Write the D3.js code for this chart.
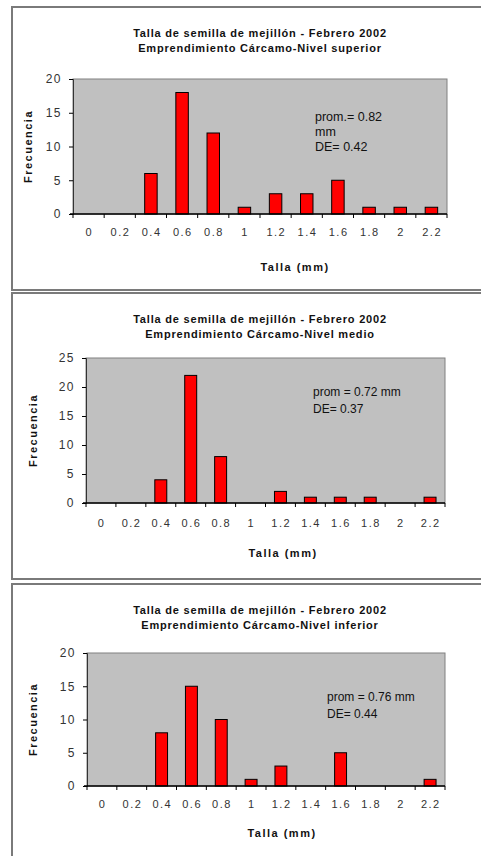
<!DOCTYPE html>
<html>
<head>
<meta charset="utf-8">
<script src="https://cdn.jsdelivr.net/npm/d3@7"></script>
<style>
  body { margin: 0; background: #fff; }
  svg { display: block; }
</style>
</head>
<body>
<svg id="chart" width="481" height="856"></svg>
<script>
// size classes (mm)
var tallas = ["0", "0.2", "0.4", "0.6", "0.8", "1", "1.2", "1.4", "1.6", "1.8", "2", "2.2"];

// frequencies per level
var freqSuperior = [0, 0, 6, 18, 12, 1, 3, 3, 5, 1, 1, 1];
var freqMedio    = [0, 0, 4, 22, 8, 0, 2, 1, 1, 1, 0, 1];
var freqInferior = [0, 0, 8, 15, 10, 1, 3, 0, 5, 0, 0, 1];

var yTicksSuperior = [0, 5, 10, 15, 20];
var yTicksMedio    = [0, 5, 10, 15, 20, 25];
var yTicksInferior = [0, 5, 10, 15, 20];

var titulo1 = "Talla de semilla de mejillón - Febrero 2002";
var subtitulos = ["Emprendimiento Cárcamo-Nivel superior",
                  "Emprendimiento Cárcamo-Nivel medio",
                  "Emprendimiento Cárcamo-Nivel inferior"];
var notas = [["prom.= 0.82", "mm", "DE= 0.42"],
             ["prom = 0.72 mm", "DE= 0.37"],
             ["prom = 0.76 mm", "DE= 0.44"]];

var svg = d3.select("#chart");
var fuente = "Liberation Sans, Arial, sans-serif";

// layout of each panel
var panels = [
  {freq: freqSuperior, ticks: yTicksSuperior, box: [7, 290],
   plot: {l: 73, r: 447, t: 79, b: 214}, titleY: 33, xLabY: 233, xTitleY: 267, xTitleX: 295,
   yTitleX: 28, note: {x: 315, y: 117, dy: 15, size: 12.5}},
  {freq: freqMedio, ticks: yTicksMedio, box: [293, 579],
   plot: {l: 86, r: 445, t: 358, b: 503}, titleY: 319, xLabY: 524, xTitleY: 553, xTitleX: 283,
   yTitleX: 33, note: {x: 313, y: 392, dy: 17, size: 12}},
  {freq: freqInferior, ticks: yTicksInferior, box: [584, 870],
   plot: {l: 87, r: 445, t: 653, b: 786}, titleY: 610, xLabY: 805, xTitleY: 833, xTitleX: 282,
   yTitleX: 33, note: {x: 327, y: 697, dy: 17, size: 12}}
];

panels.forEach(function(p, i) {
  var g = svg.append("g");

  // panel frame
  g.append("rect")
    .attr("x", 12).attr("y", p.box[0])
    .attr("width", 480).attr("height", p.box[1] - p.box[0])
    .attr("fill", "#fff")
    .attr("stroke", "#7a7a7a")
    .attr("stroke-width", 2);

  var x = d3.scaleBand()
    .domain(tallas)
    .range([p.plot.l, p.plot.r])
    .paddingInner(0.6)
    .paddingOuter(0.3);

  var y = d3.scaleLinear()
    .domain([0, d3.max(p.ticks)])
    .range([p.plot.b, p.plot.t]);

  // plot area
  g.append("rect")
    .attr("x", p.plot.l).attr("y", p.plot.t)
    .attr("width", p.plot.r - p.plot.l).attr("height", p.plot.b - p.plot.t)
    .attr("fill", "#c0c0c0")
    .attr("stroke", "#808080")
    .attr("stroke-width", 1);

  // bars
  g.selectAll(".bar")
    .data(p.freq.map(function(v, k) { return {name: tallas[k], value: v}; }))
    .enter()
    .append("rect")
      .attr("class", "bar")
      .attr("x", function(d) { return x(d.name); })
      .attr("y", function(d) { return y(d.value); })
      .attr("width", x.bandwidth())
      .attr("height", function(d) { return p.plot.b - y(d.value); })
      .attr("fill", "#ff0000")
      .attr("stroke", "#000")
      .attr("stroke-width", 1)
      .style("display", function(d) { return d.value > 0 ? null : "none"; });

  // y axis
  var yAxis = g.append("g")
    .attr("transform", "translate(" + p.plot.l + ",0)")
    .call(d3.axisLeft(y).tickValues(p.ticks).tickSize(4).tickPadding(7));
  yAxis.select(".domain").attr("stroke", "#333");
  yAxis.selectAll("line").attr("stroke", "#000");
  yAxis.selectAll("text")
    .style("font-family", fuente)
    .style("font-size", "12px")
    .style("letter-spacing", "1.5px")
    .attr("fill", "#333");

  // x axis: labels centred, ticks on category boundaries
  var xAxis = g.append("g")
    .attr("transform", "translate(0," + p.plot.b + ")")
    .call(d3.axisBottom(x).tickSize(0).tickPadding(p.xLabY - p.plot.b - 5));
  xAxis.select(".domain").remove();
  xAxis.selectAll("text")
    .style("font-family", fuente)
    .style("font-size", "11px")
    .style("letter-spacing", "1.5px")
    .attr("dx", "0.7px")
    .attr("fill", "#333");

  g.append("line")
    .attr("x1", p.plot.l - 3).attr("x2", p.plot.r)
    .attr("y1", p.plot.b).attr("y2", p.plot.b)
    .attr("stroke", "#000").attr("stroke-width", 1.5);

  g.selectAll(".xtick")
    .data(d3.range(tallas.length + 1))
    .enter()
    .append("line")
      .attr("x1", function(k) { return p.plot.l + k * x.step(); })
      .attr("x2", function(k) { return p.plot.l + k * x.step(); })
      .attr("y1", p.plot.b)
      .attr("y2", p.plot.b + 4)
      .attr("stroke", "#000");

  // titles
  var t = g.append("text")
    .attr("text-anchor", "middle")
    .style("font-family", fuente)
    .style("font-size", "11px")
    .style("font-weight", "bold")
    .style("letter-spacing", "0.8px")
    .attr("fill", "#111");
  t.append("tspan").attr("x", 260).attr("y", p.titleY + 4).text(titulo1);
  t.append("tspan").attr("x", 260).attr("y", p.titleY + 19).text(subtitulos[i]);

  g.append("text")
    .attr("x", p.xTitleX).attr("y", p.xTitleY + 4)
    .attr("text-anchor", "middle")
    .style("font-family", fuente)
    .style("font-size", "11px")
    .style("font-weight", "bold")
    .style("letter-spacing", "1.5px")
    .attr("fill", "#111")
    .text("Talla (mm)");

  g.append("text")
    .attr("transform", "translate(" + (p.yTitleX + 4) + "," + ((p.plot.t + p.plot.b) / 2) + ") rotate(-90)")
    .attr("text-anchor", "middle")
    .style("font-family", fuente)
    .style("font-size", "11px")
    .style("font-weight", "bold")
    .style("letter-spacing", "1.5px")
    .attr("fill", "#111")
    .text("Frecuencia");

  // statistics note
  g.selectAll(".nota")
    .data(notas[i])
    .enter()
    .append("text")
      .attr("x", p.note.x)
      .attr("y", function(d, k) { return p.note.y + 4 + k * p.note.dy; })
      .style("font-family", fuente)
      .style("font-size", p.note.size + "px")
      .attr("fill", "#111")
      .text(function(d) { return d; });
});
</script>
</body>
</html>
